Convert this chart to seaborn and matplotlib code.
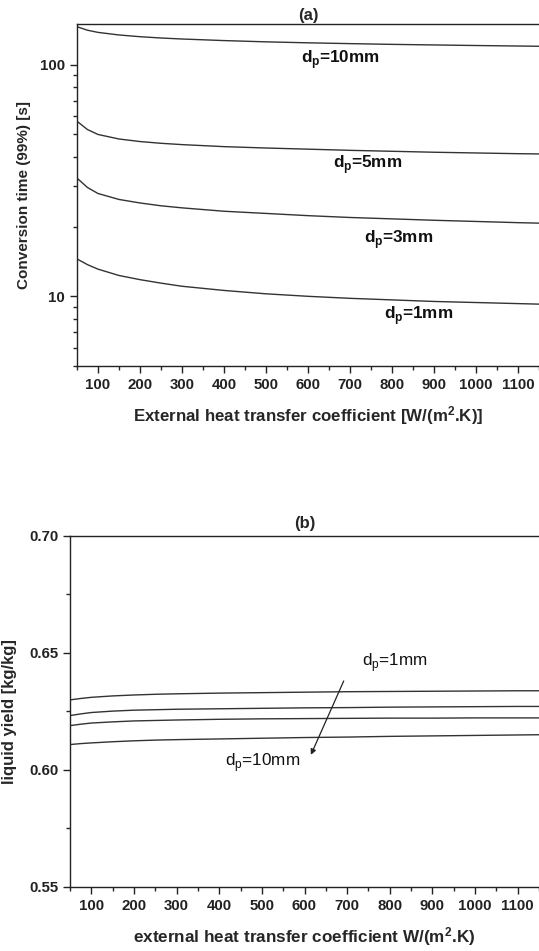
import numpy as np
import pandas as pd
import matplotlib
matplotlib.use("Agg")
import matplotlib.pyplot as plt
import seaborn as sns

# ---------------- data ----------------
h = [50, 75, 100, 150, 200, 250, 300, 400, 500, 600, 700, 800, 900, 1000, 1100, 1150]

# (a) conversion time (99%) [s]
t_1mm = [14.5, 13.7, 13.1, 12.3, 11.8, 11.4, 11.05, 10.6, 10.25, 10.0, 9.8, 9.65, 9.5, 9.4, 9.3, 9.25]
t_3mm = [32.4, 29.5, 27.8, 26.2, 25.3, 24.6, 24.1, 23.3, 22.8, 22.3, 21.9, 21.6, 21.3, 21.05, 20.8, 20.7]
t_5mm = [57.0, 52.5, 50.0, 47.8, 46.6, 45.8, 45.2, 44.3, 43.7, 43.2, 42.7, 42.3, 41.9, 41.6, 41.3, 41.2]
t_10mm = [146.0, 141.0, 138.0, 134.5, 132.2, 130.5, 129.2, 127.2, 125.6, 124.4, 123.4, 122.5, 121.8, 121.1, 120.5, 120.2]

# (b) liquid yield [kg/kg]
y_1mm = [0.6299, 0.6305, 0.6310, 0.6316, 0.6320, 0.6323, 0.6325, 0.6328, 0.6330, 0.6332, 0.6334, 0.6335, 0.6336, 0.6337, 0.6338, 0.6338]
y_3mm = [0.6232, 0.6239, 0.6245, 0.6251, 0.6255, 0.6257, 0.6259, 0.6261, 0.6263, 0.6265, 0.6266, 0.6268, 0.6269, 0.6270, 0.6271, 0.6271]
y_5mm = [0.6189, 0.6195, 0.6200, 0.6205, 0.6209, 0.6211, 0.6213, 0.6216, 0.6218, 0.6219, 0.6220, 0.6221, 0.6221, 0.6222, 0.6222, 0.6222]
y_10mm = [0.6108, 0.6112, 0.6115, 0.6120, 0.6124, 0.6127, 0.6129, 0.6132, 0.6135, 0.6138, 0.6140, 0.6143, 0.6145, 0.6147, 0.6149, 0.6150]

sizes = ["1mm", "3mm", "5mm", "10mm"]

df_a = pd.DataFrame({
    "h": h * 4,
    "val": t_1mm + t_3mm + t_5mm + t_10mm,
    "dp": sum([[s] * len(h) for s in sizes], []),
})
df_b = pd.DataFrame({
    "h": h * 4,
    "val": y_1mm + y_3mm + y_5mm + y_10mm,
    "dp": sum([[s] * len(h) for s in sizes], []),
})

# ---------------- style ----------------
sns.set_style("ticks")
plt.rcParams["font.family"] = ["Liberation Sans", "DejaVu Sans"]
plt.rcParams["mathtext.fontset"] = "custom"
plt.rcParams["mathtext.rm"] = "Liberation Sans"
plt.rcParams["mathtext.bf"] = "Liberation Sans:bold"
plt.rcParams["axes.linewidth"] = 1.0
plt.rcParams["axes.edgecolor"] = "#222222"

line_col = "#333333"
palette = {s: line_col for s in sizes}
tick_fs = 10.8

fig = plt.figure(figsize=(5.39, 9.51), dpi=100)

# ---------------- (a) ----------------
ax1 = fig.add_axes([77 / 539, 1 - 366 / 951, 1 - 77 / 539, (366 - 24) / 951])
sns.lineplot(data=df_a, x="h", y="val", hue="dp", palette=palette, legend=False,
             ax=ax1, linewidth=1.0)
ax1.set_yscale("log")
ax1.set_xlim(50, 1141)
ax1.set_ylim(5, 150)
ax1.set_xticks(range(100, 1101, 100))
ax1.set_xticks(range(50, 1151, 50), minor=True)
ax1.set_yticks([10, 100])
ax1.set_yticklabels(["10", "100"])
ax1.spines["right"].set_visible(False)
ax1.tick_params(axis="both", which="major", direction="out", length=5, width=1,
                labelsize=tick_fs, colors="#222222")
ax1.tick_params(axis="both", which="minor", direction="out", length=3, width=1)
for lab in ax1.get_xticklabels() + ax1.get_yticklabels():
    lab.set_fontweight("bold")
ax1.set_xlabel(r"External heat transfer coefficient [W/(m$\mathbf{^2}$.K)]",
               fontsize=12.2, fontweight="bold", labelpad=9)
ax1.set_ylabel("Conversion time (99%) [s]", fontsize=11, fontweight="bold")
ax1.yaxis.set_label_coords(-0.10, 0.5)
ax1.set_title("(a)", fontsize=12, fontweight="bold", pad=3)

lab_kw = dict(fontsize=12.3, fontweight="bold", color="#111111", va="center")
ax1.text(583, 105, r"d$_\mathbf{p}$=10mm", **lab_kw)
ax1.text(660, 36.9, r"d$_\mathbf{p}$=5mm", **lab_kw)
ax1.text(734, 17.5, r"d$_\mathbf{p}$=3mm", **lab_kw)
ax1.text(780, 8.28, r"d$_\mathbf{p}$=1mm", **lab_kw)

# ---------------- (b) ----------------
ax2 = fig.add_axes([70 / 539, 1 - 886.7 / 951, 1 - 70 / 539, (886.7 - 536) / 951])
sns.lineplot(data=df_b, x="h", y="val", hue="dp", palette=palette, legend=False,
             ax=ax2, linewidth=1.0)
ax2.set_xlim(50, 1125)
ax2.set_ylim(0.55, 0.70)
ax2.set_xticks(range(100, 1101, 100))
ax2.set_xticks(range(50, 1151, 50), minor=True)
ax2.set_yticks([0.55, 0.60, 0.65, 0.70])
ax2.set_yticklabels(["0.55", "0.60", "0.65", "0.70"])
ax2.set_yticks([0.575, 0.625, 0.675], minor=True)
ax2.spines["right"].set_visible(False)
ax2.tick_params(axis="both", which="major", direction="out", length=5, width=1,
                labelsize=tick_fs, colors="#222222")
ax2.tick_params(axis="both", which="minor", direction="out", length=3, width=1)
for lab in ax2.get_xticklabels() + ax2.get_yticklabels():
    lab.set_fontweight("bold")
ax2.set_xlabel(r"external heat transfer coefficient W/(m$\mathbf{^2}$.K)",
               fontsize=12.3, fontweight="bold", labelpad=9)
ax2.set_ylabel("liquid yield [kg/kg]", fontsize=12, fontweight="bold")
ax2.yaxis.set_label_coords(-0.112, 0.5)
ax2.set_title("(b)", fontsize=12, fontweight="bold", pad=6)

ann_kw = dict(fontsize=12.3, color="#111111", va="center")
ax2.text(736, 0.6457, r"d$_\mathregular{p}$=1mm", **ann_kw)
ax2.text(413, 0.603, r"d$_\mathregular{p}$=10mm", **ann_kw)
ax2.annotate("", xy=(615, 0.6064), xytext=(692, 0.638),
             arrowprops=dict(arrowstyle="-|>", color="#222222", lw=0.9,
                             mutation_scale=8, shrinkA=0, shrinkB=0))

fig.savefig("out.png", dpi=100)
